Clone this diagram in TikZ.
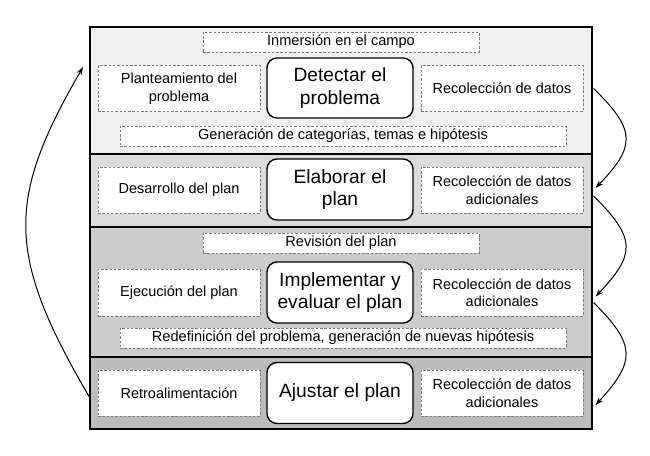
\documentclass[tikz,border=0pt]{standalone}
\usepackage{fontspec}
\setmainfont{Liberation Sans}
\usetikzlibrary{arrows.meta,calc}
\definecolor{bandA}{HTML}{F0F0F0}
\definecolor{bandB}{HTML}{DCDCDC}
\definecolor{bandC}{HTML}{CCCCCC}
\definecolor{bandD}{HTML}{BDBDBD}
\definecolor{dashgray}{HTML}{7A7A7A}
\tikzset{
  band/.style={draw=black, line width=1.6pt, minimum width=502pt, inner sep=0pt, anchor=north west},
  side/.style={draw=dashgray, fill=white, dash pattern=on 2.5pt off 1.8pt, line width=0.9pt,
    minimum width=162pt, minimum height=46pt, align=center, inner sep=1pt,
    font=\fontsize{14.5}{17.5}\selectfont},
  strip/.style={draw=dashgray, fill=white, dash pattern=on 2.5pt off 1.8pt, line width=0.9pt,
    minimum height=20pt, inner sep=0pt, font=\fontsize{14.6}{17.5}\selectfont},
  main/.style={draw=black, fill=white, line width=1.4pt, rounded corners=10pt,
    minimum width=146pt, minimum height=61pt, align=center, inner sep=1pt,
    font=\fontsize{19.2}{22.5}\selectfont},
  flow/.style={line width=1pt, -{Stealth[length=8pt,width=5.5pt]}}
}
\begin{document}
\begin{tikzpicture}[x=1pt,y=-1pt]
\useasboundingbox (0,0) rectangle (650,455);
% bands
\node[band, fill=bandA, minimum height=127pt] (b1) at (89,26) {};
\node[band, fill=bandB, minimum height=73pt] (b2) at (89,153) {};
\node[band, fill=bandC, minimum height=130pt] (b3) at (89,226) {};
\node[band, fill=bandD, minimum height=72pt] (b4) at (89,356) {};
% row 1
\node[strip, minimum width=276pt] (inm) at (341,42) {Inmersión en el campo};
\node[side] (pla) at (179,88.5) {Planteamiento del\\problema};
\node[main, minimum height=60pt] (det) at (340,88) {Detectar el\\problema};
\node[side] (rc1) at (502,88.5) {Recolección de datos};
\node[strip, minimum width=446pt] (gen) at (343,136) {Generación de categorías, temas e hipótesis};
% row 2
\node[side] (des) at (179,190) {Desarrollo del plan};
\node[main] (ela) at (340,189.5) {Elaborar el\\plan};
\node[side] (rc2) at (502,190) {Recolección de datos\\adicionales};
% row 3
\node[strip, minimum width=276pt] (rev) at (341,243) {Revisión del plan};
\node[side, minimum height=47pt] (eje) at (179,292.5) {Ejecución del plan};
\node[main] (imp) at (340,292.5) {Implementar y\\evaluar el plan};
\node[side, minimum height=47pt] (rc3) at (502,292.5) {Recolección de datos\\adicionales};
\node[strip, minimum width=446pt] (red) at (343,338) {Redefinición del problema, generación de nuevas hipótesis};
% row 4
\node[side] (ret) at (179,393) {Retroalimentación};
\node[main] (aju) at (340,393) {Ajustar el plan};
\node[side] (rc4) at (502,393) {Recolección de datos\\adicionales};
% arrow end points
\coordinate (s1) at ($(b1.east |- rc1.center)+(1,0)$);
\coordinate (e1) at ($(b2.east |- rc2.center)+(3,-2)$);
\coordinate (s2) at ($(b2.east |- rc2.center)+(1,6)$);
\coordinate (e2) at ($(b3.east |- rc3.center)+(3,4)$);
\coordinate (s3) at ($(b3.east |- rc3.center)+(1,10)$);
\coordinate (e3) at ($(b4.east |- rc4.center)+(3,12)$);
\coordinate (ls) at ($(b4.west |- ret.center)+(1,5)$);
\coordinate (le) at ($(b1.west |- pla.north)+(-6,2)$);
\draw[flow] (s1) .. controls (636,130) and (636,146) .. (e1);
\draw[flow] (s2) .. controls (636,238) and (636,254) .. (e2);
\draw[flow] (s3) .. controls (636,345) and (636,361) .. (e3);
\draw[flow] (ls) .. controls (6,255) and (6,200) .. (le);
\end{tikzpicture}
\end{document}
